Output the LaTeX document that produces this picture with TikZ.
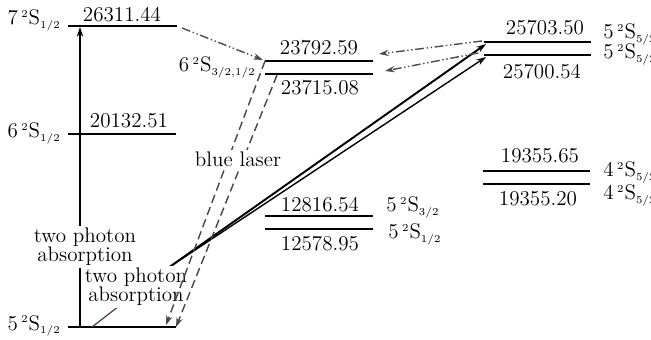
\documentclass[tikz,border=0pt]{standalone}
\usetikzlibrary{arrows.meta,positioning,calc}
\definecolor{brn}{RGB}{85,60,60}
\newcommand\lterm[2]{#1\,$^{\scriptscriptstyle 2}$S$_{\scriptscriptstyle #2}$}
\tikzset{
  lvl/.style={line width=1.1pt},
  val/.style={font=\large,inner sep=1pt},
  trm/.style={font=\large,inner sep=0pt},
  note/.style={font=\large,align=center,fill=white,inner sep=1pt},
  arr/.style={-{Stealth[length=5.5pt,width=3.6pt]},thick},
  ddarr/.style={arr,gray!60!black,dash pattern=on 5pt off 1.5pt on 0.8pt off 1.5pt on 0.8pt off 1.5pt},
  lsrarr/.style={arr,gray!55!black,dash pattern=on 4.8pt off 2.6pt},
  thn/.style={line width=0.7pt,brn}
}
\begin{document}
\begin{tikzpicture}[x=0.02cm,y=-0.02cm]
  \useasboundingbox (0,0) rectangle (651,340);

  % energy levels
  \coordinate (s7-a) at (68,26);   \coordinate (s7-b) at (177,26);
  \coordinate (s6-a) at (68,134);  \coordinate (s6-b) at (176,134);
  \coordinate (g5-a) at (68,327);  \coordinate (g5-b) at (176,327);
  \coordinate (p6u-a) at (265,61); \coordinate (p6u-b) at (373,61);
  \coordinate (p6l-a) at (265,74); \coordinate (p6l-b) at (373,74);
  \coordinate (d5u-a) at (484,42); \coordinate (d5u-b) at (591,42);
  \coordinate (d5l-a) at (484,55); \coordinate (d5l-b) at (591,55);
  \coordinate (d4u-a) at (483,171); \coordinate (d4u-b) at (590,171);
  \coordinate (d4l-a) at (483,184); \coordinate (d4l-b) at (590,184);
  \coordinate (p5u-a) at (265,216); \coordinate (p5u-b) at (373,216);
  \coordinate (p5l-a) at (265,229); \coordinate (p5l-b) at (373,229);
  \foreach \l in {s7,s6,g5,p6u,p6l,d5u,d5l,d4u,d4l,p5u,p5l}
    \draw[lvl] (\l-a) -- (\l-b);

  % values
  \node[val,anchor=south] (v7) at (122,24) {26311.44};
  \node[val,anchor=south] (v6) at (129,130) {20132.51};
  \node[val,anchor=south] (v6u) at (319,57) {23792.59};
  \node[val,anchor=north] (v6l) at (320,78) {23715.08};
  \node[val,anchor=south] (v5u) at (545,37) {25703.50};
  \node[val,anchor=north] (v5l) at (542,62) {25700.54};
  \node[val,anchor=south] (v4u) at (540,165) {19355.65};
  \node[val,anchor=north] (v4l) at (538,189) {19355.20};
  \node[val,anchor=south] (v3u) at (320,214) {12816.54};
  \node[val,anchor=north] (v3l) at (320,234) {12578.95};

  % terms
  \node[trm,anchor=base east] (t7) at (61,25) {\lterm{7}{1/2}};
  \node[trm,anchor=base east] (t6) at (61,138) {\lterm{6}{1/2}};
  \node[trm,anchor=base east] (tg) at (61,330) {\lterm{5}{1/2}};
  \node[trm,anchor=base east] (t6p) at (256,72) {\lterm{6}{3/2,1/2}};
  \node[trm,anchor=base west] (t5u) at (603,39) {\lterm{5}{5/2}};
  \node[trm,anchor=base west] (t5l) at (603,59) {\lterm{5}{5/2}};
  \node[trm,anchor=base west] (t4u) at (603,177) {\lterm{4}{5/2}};
  \node[trm,anchor=base west] (t4l) at (603,200) {\lterm{4}{5/2}};
  \node[trm,anchor=base west] (t3u) at (386,212) {\lterm{5}{3/2}};
  \node[trm,anchor=base west] (t3l) at (388,239) {\lterm{5}{1/2}};

  % two photon absorption paths
  \coordinate (tp-a) at (80,327);
  \coordinate (tp-b) at (80,27);
  \draw[arr] (tp-a) -- (tp-b);
  \coordinate (gs) at (92,327);
  \coordinate (jn) at (168,268);
  \coordinate (d5u-t) at (486,44);
  \coordinate (d5l-t) at (486,57);
  \draw[thn] (gs) -- (jn);
  \draw[arr,line width=1.1pt] (jn) -- (d5u-t);
  \draw[arr] (jn) -- (d5l-t);
  \node[note] (tpa1) at (85,247) {two photon\\[-3pt]absorption};
  \node[note] (tpa2) at (136,287) {two photon\\[-3pt]absorption};

  % blue laser
  \coordinate (bl-b) at (277,75);
  \coordinate (bl-c) at (166,325);
  \draw[lsrarr] (p6u-a) -- (bl-c);
  \draw[lsrarr] (bl-b) -- (g5-b);
  \node[note] (blue) at (238,159) {blue laser};

  % cascades
  \coordinate (s7-c) at (182,28);
  \coordinate (p6u-t) at (263,60);
  \coordinate (d5u-c) at (482,41);
  \coordinate (d5l-c) at (478,53);
  \coordinate (p6u-r) at (379,54);
  \coordinate (p6l-r) at (385,71);
  \draw[ddarr] (s7-c) -- (p6u-t);
  \draw[ddarr] (d5u-c) -- (p6u-r);
  \draw[ddarr] (d5l-c) -- (p6l-r);
\end{tikzpicture}
\end{document}
